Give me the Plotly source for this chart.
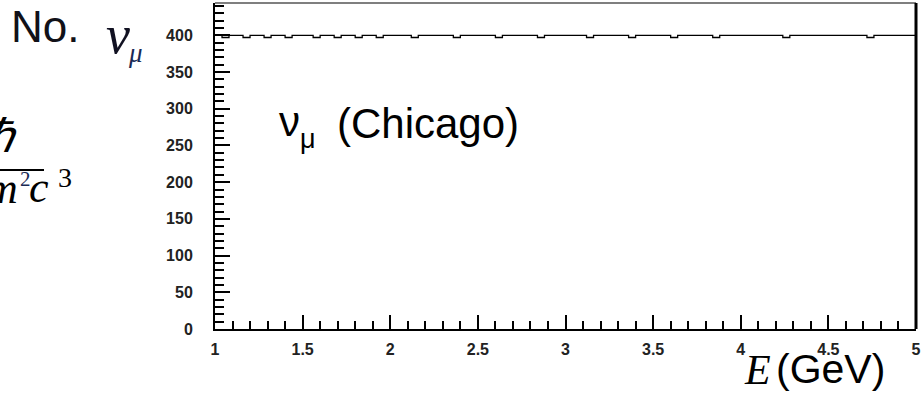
import numpy as np
import plotly.graph_objects as go

# ---- data ----
E_MIN, E_MAX, N_BINS = 1.0, 5.0, 100
counts = [
    400, 397, 400, 400, 397, 400, 400, 397, 400, 400,
    397, 400, 400, 400, 397, 400, 400, 397, 400, 400,
    397, 400, 400, 397, 400, 400, 400, 400, 397, 400,
    400, 400, 400, 400, 397, 400, 400, 400, 400, 400,
    397, 400, 400, 400, 400, 400, 397, 400, 400, 400,
    400, 400, 400, 397, 400, 400, 400, 400, 400, 397,
    400, 400, 400, 400, 400, 397, 400, 400, 400, 400,
    400, 397, 400, 400, 400, 400, 400, 400, 400, 400,
    400, 397, 400, 400, 400, 400, 400, 400, 400, 400,
    400, 400, 400, 397, 400, 400, 400, 400, 400, 400,
]
x_ticks = [1, 1.5, 2, 2.5, 3, 3.5, 4, 4.5, 5]
x_tick_labels = ["1", "1.5", "2", "2.5", "3", "3.5", "4", "4.5", "5"]
y_ticks = [0, 50, 100, 150, 200, 250, 300, 350, 400]
y_tick_labels = ["0", "50", "100", "150", "200", "250", "300", "350", "400"]
Y_MAX = 444

edges = list(np.linspace(E_MIN, E_MAX, N_BINS + 1))
step_x = edges
step_y = counts + [counts[-1]]

W, H = 922, 396
L, R, T, B = 215, 6, 3, 67
PW, PH = W - L - R, H - T - B


def px(x):
    return (x - L) / PW


def py(y):
    return (H - B - y) / PH


fig = go.Figure()
fig.add_trace(go.Scatter(
    x=step_x, y=step_y, mode="lines", line=dict(color="black", width=1.3, shape="hv"),
    hoverinfo="skip", showlegend=False,
))

tick_font = dict(family="Liberation Sans, Arial, sans-serif", size=16, color="#222222", weight="bold")

fig.update_xaxes(
    range=[E_MIN, E_MAX], tickvals=x_ticks, ticktext=x_tick_labels,
    ticks="inside", ticklen=14, tickwidth=1.5, tickcolor="black",
    minor=dict(ticks="inside", dtick=0.1, ticklen=8, tickwidth=1.5, tickcolor="black"),
    showline=True, linecolor="black", linewidth=2, showgrid=False, zeroline=False,
    tickfont=tick_font, ticklabelstandoff=5, ticklabeloverflow="allow",
)
fig.update_yaxes(
    range=[0, Y_MAX], tickvals=y_ticks, ticktext=y_tick_labels,
    ticks="inside", ticklen=15, tickwidth=1.5, tickcolor="black",
    minor=dict(ticks="inside", dtick=10, ticklen=9, tickwidth=1.5, tickcolor="black"),
    showline=True, linecolor="black", linewidth=2, showgrid=False, zeroline=False,
    tickfont=tick_font, ticklabelstandoff=17, ticklabeloverflow="allow",
)

shapes = [
    dict(type="line", xref="paper", yref="paper", x0=0, x1=1, y0=1, y1=1,
         line=dict(color="#555555", width=1.5)),
    dict(type="line", xref="paper", yref="paper", x0=1, x1=1, y0=0, y1=1,
         line=dict(color="black", width=3)),
    # fraction bar of the cut-off formula
    dict(type="line", xref="paper", yref="paper", x0=px(-2), x1=px(44), y0=py(170), y1=py(170),
         line=dict(color="black", width=2)),
]

sans = "Liberation Sans, Arial, sans-serif"
serif = "Liberation Serif, Times New Roman, serif"


def ann(text, x, y, size, family, color="black", xanchor="left", yanchor="middle"):
    return dict(text=text, x=px(x), y=py(y), xref="paper", yref="paper",
                xanchor=xanchor, yanchor=yanchor, showarrow=False,
                font=dict(size=size, family=family, color=color))


annotations = [
    ann("No.", 9, 26, 44, sans, color="#111118"),
    ann("<i>ν</i>", 104, 35, 54, serif, color="#111122"),
    ann("<i>μ</i>", 126, 53, 27, serif, color="#1a2a55"),
    ann("ν", 277, 121, 42, sans),
    ann("μ", 298, 139, 27, sans),
    ann("(Chicago)", 335, 123, 42, sans),
    ann("<i>E</i>", 742, 370, 42, serif),
    ann("(GeV)", 774, 369, 41, sans),
    ann("<i>ℏ</i>", -16, 136, 46, serif),
    ann("<i>m</i>", -16, 188, 44, serif),
    ann("2", 18, 179, 21, serif, color="#1a2a55"),
    ann("<i>c</i>", 27, 187, 44, serif),
    ann("3", 56, 177, 28, serif),
]

fig.update_layout(
    width=W, height=H, margin=dict(l=L, r=R, t=T, b=B, autoexpand=False),
    paper_bgcolor="white", plot_bgcolor="white",
    shapes=shapes, annotations=annotations, showlegend=False,
)

fig.write_html("out.html", config={"displayModeBar": False},
               post_script="document.body.style.margin='0';document.body.style.overflow='hidden';")
